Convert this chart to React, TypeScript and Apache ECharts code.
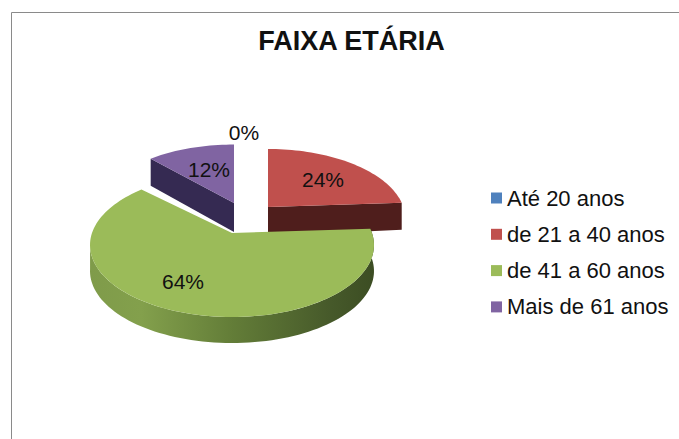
import React, { useEffect, useRef } from "react";
import * as echarts from "echarts";

const chartTitle = "FAIXA ETÁRIA";
const categories = ["Até 20 anos", "de 21 a 40 anos", "de 41 a 60 anos", "Mais de 61 anos"];
const shares = [0, 24, 64, 12];
const topColors = ["#4f81bd", "#c0504d", "#9bbb59", "#8064a2"];
const wallColors = ["#2c4a70", "#4f1e1c", "#5f7a36", "#352a52"];

// Layout of the tilted, exploded pie (pixels)
const RADIUS = 140;
const TILT = 0.5;
const PERSPECTIVE = 0.167;
const DEPTH = 26;
const apexes: [number, number][] = [[244, 160], [268, 207], [232, 233], [234, 203]];
const scales = [1, 0.967, 1, 0.975];
const sweepAdjust = [0, 0, -3, 0];
const labelCenters: [number, number][] = [[244, 132], [323, 179], [183, 281], [209, 169]];
const LABEL_SIZE = 21;

const total = shares.reduce((a, b) => a + b, 0);
const startAngles = shares.map((_, i) => shares.slice(0, i).reduce((a, b) => a + b, 0) / total * 360);

function project(i: number, deg: number): [number, number] {
  const t = (deg * Math.PI) / 180;
  const u = Math.sin(t);
  const v = Math.cos(t);
  const w = 1 + PERSPECTIVE * v;
  return [
    apexes[i][0] + (scales[i] * RADIUS * u) / w,
    apexes[i][1] - (scales[i] * RADIUS * TILT * v) / w,
  ];
}

function arc(i: number, from: number, to: number): [number, number][] {
  const pts: [number, number][] = [];
  const n = Math.max(2, Math.ceil(Math.abs(to - from) / 2));
  for (let k = 0; k <= n; k++) pts.push(project(i, from + ((to - from) * k) / n));
  return pts;
}

const down = (pts: [number, number][]) => pts.map(([x, y]) => [x, y + DEPTH] as [number, number]);

function renderSlice(i: number) {
  const children: any[] = [];
  const start = startAngles[i];
  const end = start + (shares[i] / total) * 360 + sweepAdjust[i];
  const apex = apexes[i];

  if (shares[i] > 0) {
    if (i === 2) {
      // rounded outer wall, visible from the east edge round to the west edge
      const edge = arc(i, start, 262);
      children.push({
        type: "polygon",
        shape: { points: [...edge, ...down(edge).reverse()] },
        style: {
          fill: {
            type: "linear", x: 0, y: 0, x2: 1, y2: 0,
            colorStops: [
              { offset: 0, color: "#7f9b4a" },
              { offset: 0.18, color: "#83a04c" },
              { offset: 0.5, color: "#637d38" },
              { offset: 0.85, color: "#46592a" },
              { offset: 1, color: "#3c4d23" },
            ],
          },
        },
      });
    } else {
      // flat cut face, seen from the front
      const rim = project(i, i === 1 ? end : start);
      const face: [number, number][] = [apex, rim, [rim[0], rim[1] + DEPTH + 1], [apex[0], apex[1] + DEPTH + 3]];
      children.push({ type: "polygon", shape: { points: face }, style: { fill: wallColors[i] } });
    }
    children.push({
      type: "polygon",
      shape: { points: [apex, ...arc(i, start, end)] },
      style: { fill: topColors[i] },
    });
  }

  children.push({
    type: "text",
    style: {
      x: labelCenters[i][0],
      y: labelCenters[i][1],
      text: `${Math.round((shares[i] / total) * 100)}%`,
      font: `${LABEL_SIZE}px "Liberation Sans", Arial, sans-serif`,
      fill: "#111",
      align: "center",
      verticalAlign: "middle",
    },
  });
  return { type: "group", children };
}

const drawOrder = [0, 3, 1, 2];

export default function App() {
  const ref = useRef<HTMLDivElement>(null);
  useEffect(() => {
    const chart = echarts.init(ref.current!, undefined, { renderer: "svg" });
    chart.setOption({
      animation: false,
      backgroundColor: "#ffffff",
      title: {
        text: chartTitle,
        left: 346.5,
        top: 22,
        textAlign: "center",
        textStyle: { fontFamily: '"Liberation Sans", Arial, sans-serif', fontSize: 27, fontWeight: "bold", color: "#111" },
      },
      legend: {
        orient: "vertical",
        left: 491,
        top: 187,
        padding: 0,
        data: categories,
        icon: "rect",
        itemWidth: 11,
        itemHeight: 11,
        itemGap: 14.3,
        selectedMode: false,
        textStyle: {
          fontFamily: '"Liberation Sans", Arial, sans-serif',
          fontSize: 22,
          color: "#111",
        },
      },
      graphic: [
        { type: "line", silent: true, shape: { x1: 11.5, y1: 12.5, x2: 679, y2: 12.5 }, style: { stroke: "#8a8a8a", lineWidth: 1 } },
        { type: "line", silent: true, shape: { x1: 11.5, y1: 12.5, x2: 11.5, y2: 439 }, style: { stroke: "#8a8a8a", lineWidth: 1 } },
      ],
      series: drawOrder.map((i) => ({
        type: "custom",
        name: categories[i],
        coordinateSystem: "none",
        silent: true,
        itemStyle: { color: topColors[i] },
        data: [[shares[i]]],
        renderItem: () => renderSlice(i),
      })),
    });
    return () => chart.dispose();
  }, []);
  return <div ref={ref} style={{ position: "absolute", left: 0, top: 0, width: 679, height: 439 }} />;
}
